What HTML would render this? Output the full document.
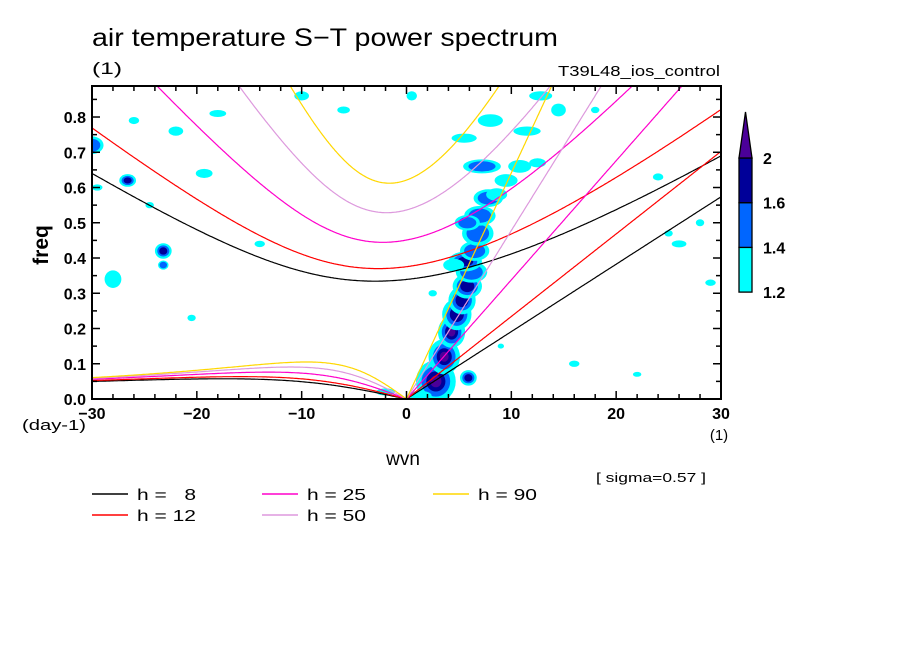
<!DOCTYPE html>
<html><head><meta charset="utf-8">
<style>
body{margin:0;background:#fff;}
svg text{font-family:"Liberation Sans",sans-serif;}
</style></head>
<body>
<svg id="chart" width="904" height="654" viewBox="0 0 904 654" xmlns="http://www.w3.org/2000/svg">
<rect width="904" height="654" fill="#fff"/>
<text x="92" y="46" font-size="25" textLength="466" lengthAdjust="spacingAndGlyphs">air temperature S−T power spectrum</text>
<text x="92" y="74" font-size="17" textLength="30" lengthAdjust="spacingAndGlyphs">(1)</text>
<text x="720" y="76" font-size="15" text-anchor="end" textLength="162" lengthAdjust="spacingAndGlyphs">T39L48_ios_control</text>
<defs><clipPath id="plotclip"><rect x="92" y="86" width="629" height="313"/></clipPath></defs>
<g id="blobs" clip-path="url(#plotclip)"></g>
<g id="curves" clip-path="url(#plotclip)"></g>
<g id="axes"></g>
<text x="48" y="245" font-size="21" font-weight="bold" transform="rotate(-90 48 245)" text-anchor="middle">freq</text>
<text x="22" y="430" font-size="15" textLength="64" lengthAdjust="spacingAndGlyphs">(day-1)</text>
<text x="403" y="465" font-size="19" text-anchor="middle">wvn</text>
<text x="719" y="440" font-size="15" text-anchor="middle">(1)</text>
<text x="596" y="482" font-size="13" textLength="110" lengthAdjust="spacingAndGlyphs">[ sigma=0.57 ]</text>
<g id="legend"></g>
<g id="colorbar"></g>
</svg>
<script>
const depths = [8, 12, 25, 50, 90];
const depthColors = ["#000000", "#ff0000", "#ff00cc", "#dd99dd", "#ffd700"];
const xTicks = [-30, -20, -10, 0, 10, 20, 30];
const yTicks = [0.0, 0.1, 0.2, 0.3, 0.4, 0.5, 0.6, 0.7, 0.8];
const cbLevels = ["1.2", "1.4", "1.6", "2"];
const cbColors = ["#00ffff", "#0066ff", "#000099", "#4b0099"];
// blobs: wvn, freq, level(1..4), radius in wvn, radius in freq
const blobWvn =  [2.8, 3.6, 4.3, 4.8, 5.3, 5.8, 6.2, 5.6, 6.5, 4.5, 6.8, 7.0, 7.8, 5.8, 8.6, 9.5, 7.2, 10.8, 12.5, 8.0, 11.5, 14.5, 12.8, 5.5, 1.3, 5.9, -23.2, -23.2, -26.6, -19.3, -30, -22, -26, -18, -10, -6, -28, -14, 24, 26, 28, 25, 18, 16, -2, 9, 2.5, 29, 22, 0.5, -29.5, -24.5, -20.5];
const blobFreq = [0.05, 0.12, 0.19, 0.24, 0.28, 0.32, 0.36, 0.39, 0.42, 0.38, 0.47, 0.52, 0.57, 0.50, 0.58, 0.62, 0.66, 0.66, 0.67, 0.79, 0.76, 0.82, 0.86, 0.74, 0.01, 0.06, 0.42, 0.38, 0.62, 0.64, 0.72, 0.76, 0.79, 0.81, 0.86, 0.82, 0.34, 0.44, 0.63, 0.44, 0.50, 0.47, 0.82, 0.10, 0.02, 0.15, 0.30, 0.33, 0.07, 0.86, 0.60, 0.55, 0.23];
const blobLevel = [4, 4, 4, 3, 3, 3, 2, 3, 2, 1, 2, 2, 2, 2, 1, 1, 2, 1, 1, 1, 1, 1, 1, 1, 1, 3, 3, 2, 3, 1, 2, 1, 1, 1, 1, 1, 1, 1, 1, 1, 1, 1, 1, 1, 1, 1, 1, 1, 1, 1, 1, 1, 1];
const blobRw =   [1.9, 1.5, 1.3, 1.4, 1.3, 1.4, 1.5, 1.6, 1.4, 1.0, 1.5, 1.5, 1.4, 1.2, 1.0, 1.1, 1.8, 1.1, 0.8, 1.2, 1.3, 0.7, 1.1, 1.2, 1.1, 0.8, 0.8, 0.5, 0.8, 0.8, 1.1, 0.7, 0.5, 0.8, 0.7, 0.6, 0.8, 0.5, 0.5, 0.7, 0.4, 0.4, 0.4, 0.5, 0.9, 0.3, 0.4, 0.5, 0.4, 0.5, 0.5, 0.4, 0.4];
const blobRf =   [0.06, 0.05, 0.045, 0.045, 0.04, 0.035, 0.03, 0.028, 0.028, 0.018, 0.035, 0.028, 0.025, 0.022, 0.018, 0.018, 0.02, 0.018, 0.013, 0.018, 0.013, 0.018, 0.013, 0.013, 0.013, 0.022, 0.022, 0.013, 0.018, 0.013, 0.025, 0.013, 0.01, 0.01, 0.013, 0.01, 0.025, 0.009, 0.01, 0.01, 0.01, 0.009, 0.009, 0.009, 0.01, 0.007, 0.009, 0.009, 0.007, 0.013, 0.009, 0.009, 0.009];

const X0=92, X1=721, Y0=399, Y1=86;
const xMin=-30, xMax=30, yMin=0, yMax=0.888;
function sx(v){return X0+(v-xMin)/(xMax-xMin)*(X1-X0);}
function sy(v){return Y0-(v-yMin)/(yMax-yMin)*(Y0-Y1);}
const NS="http://www.w3.org/2000/svg";
function mk(tag, attrs, parent){const e=document.createElementNS(NS,tag);for(const k in attrs)e.setAttribute(k,attrs[k]);parent.appendChild(e);return e;}

const gb=document.getElementById('blobs');
const fr=[1,0.72,0.48,0.28];
for(let i=0;i<blobWvn.length;i++){
  for(let l=0;l<blobLevel[i];l++){
    const rx=(sx(blobRw[i]*fr[l])-sx(0));
    const ry=(sy(0)-sy(blobRf[i]*fr[l]));
    const e=mk('ellipse',{cx:sx(blobWvn[i]),cy:sy(blobFreq[i]),rx:rx,ry:ry,fill:cbColors[l]},gb);
    
    
  }
}

const a=6.371e6, beta=2*7.292e-5/a, g=9.81;
const toCpd=86400/(2*Math.PI);
function roots(k,c){
  const p=-(c*c*k*k+3*beta*c), q=-beta*c*c*k;
  const m=2*Math.sqrt(-p/3);
  let arg=3*q/(2*p)*Math.sqrt(-3/p); arg=Math.max(-1,Math.min(1,arg));
  const th=Math.acos(arg)/3;
  const r=[0,1,2].map(j=>m*Math.cos(th-2*Math.PI*j/3));
  return r.sort((u,v)=>v-u);
}
const gc=document.getElementById('curves');
depths.forEach((h,di)=>{
  const c=Math.sqrt(g*h);
  let kel="", ig="", ros="";
  for(let i=0;i<=600;i++){
    const w=xMin+(xMax-xMin)*i/600, k=w/a;
    const r=roots(k,c);
    ig+=(i?"L":"M")+sx(w).toFixed(1)+","+sy(r[0]*toCpd).toFixed(1);
    if(w<=0) ros+=(ros?"L":"M")+sx(w).toFixed(1)+","+sy(r[1]*toCpd).toFixed(1);
    if(w>=0) kel+=(kel?"L":"M")+sx(w).toFixed(1)+","+sy(c*k*toCpd).toFixed(1);
  }
  const p1=mk('path',{d:ig,fill:'none',stroke:depthColors[di],'stroke-width':1.2},gc);
  
  
  const p2=mk('path',{d:ros,fill:'none',stroke:depthColors[di],'stroke-width':1.2},gc);
  
  
  const p3=mk('path',{d:kel,fill:'none',stroke:depthColors[di],'stroke-width':1.2},gc);
  
  
});

const ga=document.getElementById('axes');
const fr2=mk('rect',{x:X0,y:Y1,width:X1-X0,height:Y0-Y1,fill:'none',stroke:'#000','stroke-width':2},ga);


for(let v=-30;v<=30;v+=2){
  const major=v%10===0, len=major?8:5;
  const t1=mk('line',{x1:sx(v),x2:sx(v),y1:Y0,y2:Y0-len,stroke:'#000','stroke-width':1.5},ga);
  
  
  const t2=mk('line',{x1:sx(v),x2:sx(v),y1:Y1,y2:Y1+len,stroke:'#000','stroke-width':1.5},ga);
  
  
}
for(let j=0;j<=17;j++){
  const v=j*0.05, major=j%2===0, len=major?8:5;
  const t1=mk('line',{x1:X0,x2:X0+len,y1:sy(v),y2:sy(v),stroke:'#000','stroke-width':1.5},ga);
  
  
  const t2=mk('line',{x1:X1,x2:X1-len,y1:sy(v),y2:sy(v),stroke:'#000','stroke-width':1.5},ga);
  
  
}
xTicks.forEach(v=>{
  const t=mk('text',{x:sx(v),y:Y0+20,'font-size':16,'font-weight':'bold','text-anchor':'middle'},ga);
  t.textContent=(v<0?"−":"")+Math.abs(v);
  
  
});
yTicks.forEach(v=>{
  const t=mk('text',{x:X0-6,y:sy(v)+6,'font-size':16,'font-weight':'bold','text-anchor':'end'},ga);
  t.textContent=v.toFixed(1);
  
  
});

const gl=document.getElementById('legend');
const legPos=[[92,494],[92,515],[262,494],[262,515],[433,494]];
depths.forEach((h,i)=>{
  const [lx,ly]=legPos[i];
  const l=mk('line',{x1:lx,x2:lx+36,y1:ly,y2:ly,stroke:depthColors[i],'stroke-width':1.5},gl);
  
  
  const t=mk('text',{x:lx+45,y:ly+6,'font-size':16,'textLength':59,'lengthAdjust':'spacingAndGlyphs'},gl);
  t.textContent="h = "+(h<10?"\u00a0\u00a0"+h:h);
  
  
});

const gcb=document.getElementById('colorbar');
const cbX=739, cbW=13, cbTop=158, step=44.7;
for(let i=0;i<3;i++){
  const r=mk('rect',{x:cbX,y:cbTop+(2-i)*step,width:cbW,height:step,fill:cbColors[i],stroke:'#000','stroke-width':1.3},gcb);
  
  
}
const tri=mk('polygon',{points:`${cbX},${cbTop} ${cbX+cbW},${cbTop} ${cbX+cbW/2},112`,fill:cbColors[3],stroke:'#000','stroke-width':1.3},gcb);


cbLevels.forEach((s,i)=>{
  const t=mk('text',{x:763,y:cbTop+(3-i)*step+6,'font-size':16,'font-weight':'bold'},gcb);
  t.textContent=s;
  
  
});
</script>
</body></html>
